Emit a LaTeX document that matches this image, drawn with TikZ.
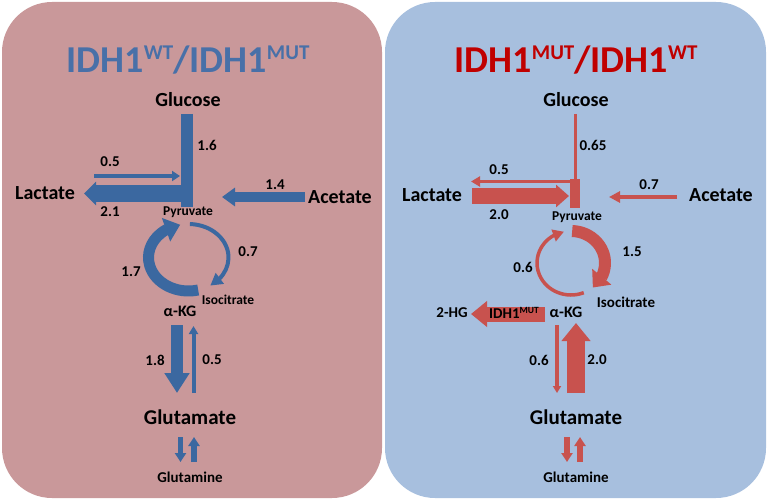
\documentclass[tikz,border=0pt]{standalone}
\usepackage{fontspec}
\setmainfont{Carlito}
\usetikzlibrary{arrows.meta,bending,calc}
\definecolor{bgL}{RGB}{201,152,154}
\definecolor{bgR}{RGB}{167,191,222}
\definecolor{blueA}{RGB}{59,104,160}
\definecolor{blueT}{RGB}{72,112,168}
\definecolor{redA}{RGB}{200,82,78}
\definecolor{redT}{RGB}{192,0,0}
\newcommand\bigsup[1]{\raisebox{12.5pt}{\fontsize{21}{21}\selectfont #1}}
\newcommand\smallsup[1]{\raisebox{5pt}{\fontsize{9.5}{9.5}\selectfont #1}}
\begin{document}
\begin{tikzpicture}[x=1pt,y=-1pt,
  panel/.style={rounded corners=50pt},
  ttl/.style={font=\fontsize{38}{38}\selectfont\bfseries},
  lbl/.style={font=\fontsize{20}{20}\selectfont\bfseries},
  glu/.style={font=\fontsize{21}{21}\selectfont\bfseries},
  num/.style={font=\fontsize{15}{15}\selectfont\bfseries},
  sm/.style={font=\fontsize{13.5}{13.5}\selectfont\bfseries},
  fl/.style n args={3}{line width=#1, -{Triangle[width=#2,length=#3]}},
  bar/.style={line width=#1}
]
\useasboundingbox (0,0) rectangle (768,500);
% panels
\fill[bgL, panel] (2,2) rectangle (382,498);
\fill[bgR, panel] (385,2) rectangle (766,498);

% ================= LEFT PANEL =================
\coordinate (lgTop) at (186.5,114);
\coordinate (lgBot) at (186.5,207);
\coordinate (l05s) at (94,176);
\coordinate (l05e) at (180,176);
\coordinate (l21s) at (181,193.5);
\coordinate (l21e) at (84,193.5);
\coordinate (lacS) at (305,197);
\coordinate (lacE) at (222,197);
\coordinate (l18s) at (177,325);
\coordinate (l18e) at (177,393);
\coordinate (l05us) at (193.5,393);
\coordinate (l05ue) at (193.5,326);
\coordinate (lgnDs) at (180.5,437);
\coordinate (lgnDe) at (180.5,462);
\coordinate (lgnUs) at (194,462);
\coordinate (lgnUe) at (194,437);
\coordinate (lcyc) at (188.5,257.5);

\begin{scope}[blueA, draw=blueA]
\draw[bar=12pt] (lgTop) -- (lgBot);
\draw[fl={4.5pt}{10pt}{8pt}] (l05s) -- (l05e);
\draw[fl={17pt}{23pt}{12pt}] (l21s) -- (l21e);
\draw[fl={10pt}{18pt}{13pt}] (lacS) -- (lacE);
\draw[fl={12pt}{24pt}{20pt}] (l18s) -- (l18e);
\draw[fl={4pt}{9pt}{8pt}] (l05us) -- (l05ue);
\draw[fl={5.5pt}{11pt}{9pt}] (lgnDs) -- (lgnDe);
\draw[fl={5.5pt}{11pt}{9pt}] (lgnUs) -- (lgnUe);
% cycle
\draw[fl={11pt}{24pt}{15pt}] ($(lcyc)+(76:40 and 33.5)$) arc[start angle=76, end angle=258, x radius=40, y radius=33.5];
\draw[fl={4pt}{13pt}{12pt}] ($(lcyc)+(272:40 and 33.5)$) arc[start angle=272, end angle=417, x radius=40, y radius=33.5];
\end{scope}

\node[ttl, text=blueT] (ltitle) at (188,60) {IDH1\bigsup{WT}/IDH1\bigsup{MUT}};
\node[lbl] (lglc) at (188,100) {Glucose};
\node[num] (l16) at (207,145) {1.6};
\node[num] (l05a) at (110,162) {0.5};
\node[lbl] (llac) at (45,193) {Lactate};
\node[num] (l21) at (110,212) {2.1};
\node[sm] (lpyr) at (188,212) {Pyruvate};
\node[num] (l14) at (275,185) {1.4};
\node[lbl] (lace) at (340,197) {Acetate};
\node[num] (l07) at (248,252) {0.7};
\node[num] (l17) at (131,272) {1.7};
\node[sm] (liso) at (228,300) {Isocitrate};
\node[font=\fontsize{16}{16}\selectfont\bfseries] (lakg) at (180,311) {α-KG};
\node[num] (l18) at (155,360) {1.8};
\node[num] (l05b) at (212,360) {0.5};
\node[glu] (lglu) at (190,417) {Glutamate};
\node[num] (lgln) at (190,477) {Glutamine};

% ================= RIGHT PANEL =================
\coordinate (rgTop) at (575,114);
\coordinate (rgMid) at (575,181);
\coordinate (rbTop) at (575,179);
\coordinate (rbBot) at (575,208);
\coordinate (r05s) at (570,181.5);
\coordinate (r05e) at (471,181.5);
\coordinate (r20s) at (472,196);
\coordinate (r20e) at (569,196);
\coordinate (racS) at (677,197);
\coordinate (racE) at (609,197);
\coordinate (rhgS) at (545,314);
\coordinate (rhgE) at (471,314);
\coordinate (r06s) at (557,325);
\coordinate (r06e) at (557,393);
\coordinate (r20us) at (576,393);
\coordinate (r20ue) at (576,323);
\coordinate (rgnDs) at (567,437);
\coordinate (rgnDe) at (567,462);
\coordinate (rgnUs) at (580,462);
\coordinate (rgnUe) at (580,437);
\coordinate (rcyc) at (571,263);

\begin{scope}[redA, draw=redA]
\draw[bar=3pt] (rgTop) -- (rgMid);
\draw[bar=10pt] (rbTop) -- (rbBot);
\draw[fl={3.5pt}{10pt}{9pt}] (r05s) -- (r05e);
\draw[fl={16pt}{22pt}{13pt}] (r20s) -- (r20e);
\draw[fl={3.5pt}{11pt}{11pt}] (racS) -- (racE);
\draw[fl={15pt}{25pt}{16pt}] (rhgS) -- (rhgE);
\draw[fl={4pt}{8pt}{7pt}] (r06s) -- (r06e);
\draw[fl={18pt}{28pt}{18pt}] (r20us) -- (r20ue);
\draw[fl={5.5pt}{11pt}{9pt}] (rgnDs) -- (rgnDe);
\draw[fl={5.5pt}{11pt}{9pt}] (rgnUs) -- (rgnUe);
% cycle
\draw[fl={12pt}{24pt}{14pt}] ($(rcyc)+(272:34 and 32)$) arc[start angle=272, end angle=410, x radius=34, y radius=32];
\draw[fl={3.5pt}{12pt}{11pt}] ($(rcyc)+(68:34 and 32)$) arc[start angle=68, end angle=258, x radius=34, y radius=32];
\end{scope}

\node[ttl, text=redT] (rtitle) at (576,60) {IDH1\bigsup{MUT}/IDH1\bigsup{WT}};
\node[lbl] (rglc) at (576,100) {Glucose};
\node[num] (r065) at (593,145) {0.65};
\node[num] (r05a) at (499,170) {0.5};
\node[lbl] (rlac) at (432,195) {Lactate};
\node[num] (r20a) at (499,215) {2.0};
\node[sm] (rpyr) at (577,217) {Pyruvate};
\node[num] (r07) at (649,185) {0.7};
\node[lbl] (race) at (721,195) {Acetate};
\node[num] (r15) at (632,252) {1.5};
\node[num] (r06a) at (523,267) {0.6};
\node[num] (riso) at (626,302) {Isocitrate};
\node[font=\fontsize{16}{16}\selectfont\bfseries] (rakg) at (566,312) {α-KG};
\node[num] (rhg) at (452,313) {2-HG};
\node[num] (ridh) at (514,313) {IDH1\smallsup{MUT}};
\node[num] (r06b) at (539,360) {0.6};
\node[num] (r20b) at (597,360) {2.0};
\node[glu] (rglu) at (576,417) {Glutamate};
\node[num] (rgln) at (576,477) {Glutamine};
\end{tikzpicture}
\end{document}
